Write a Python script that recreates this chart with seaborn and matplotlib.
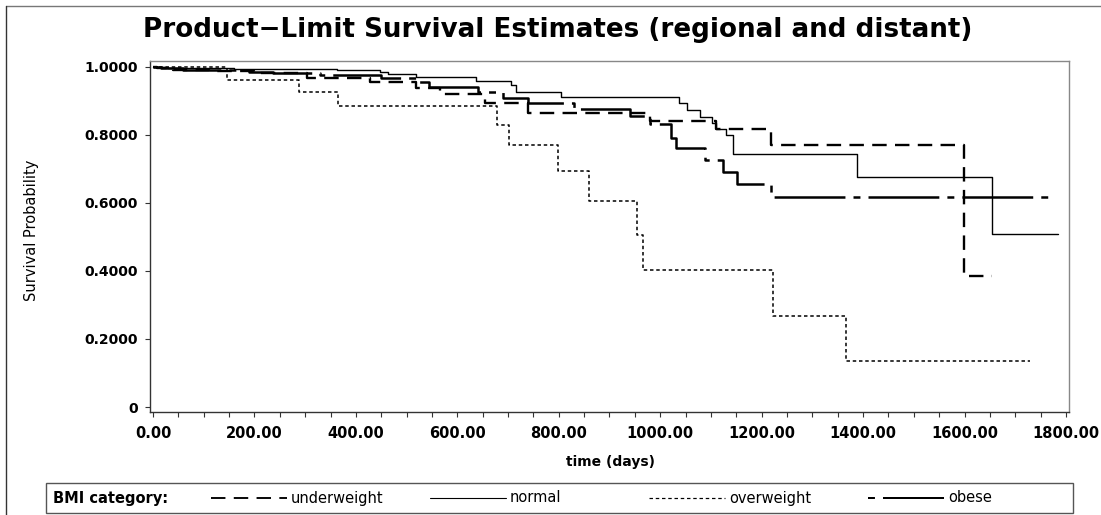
import matplotlib
matplotlib.use("Agg")
import matplotlib.pyplot as plt
import pandas as pd
import seaborn as sns
from matplotlib.lines import Line2D
from matplotlib.patches import Rectangle
from matplotlib.ticker import MultipleLocator

# Kaplan-Meier step values (time in days, survival probability)
groups = ["underweight", "normal", "overweight", "obese"]

underweight_time = [0, 8, 40, 110, 200, 303, 428, 519, 566, 655, 740, 980, 1110, 1218, 1599, 1654]
underweight_surv = [1.0, 0.996, 0.992, 0.988, 0.982, 0.968, 0.957, 0.937, 0.920, 0.893, 0.866,
                    0.840, 0.817, 0.772, 0.386, 0.386]

normal_time = [0, 30, 160, 362, 447, 463, 519, 637, 706, 716, 804, 1038, 1052, 1079, 1103,
               1110, 1130, 1144, 1388, 1654, 1785]
normal_surv = [1.0, 0.997, 0.994, 0.991, 0.985, 0.978, 0.970, 0.960, 0.948, 0.926, 0.913,
               0.893, 0.873, 0.852, 0.834, 0.817, 0.800, 0.745, 0.677, 0.508, 0.508]

overweight_time = [0, 146, 288, 365, 678, 701, 798, 859, 954, 967, 1222, 1366, 1730]
overweight_surv = [1.0, 0.963, 0.926, 0.885, 0.830, 0.770, 0.693, 0.606, 0.505, 0.404,
                   0.269, 0.135, 0.135]

obese_time = [0, 15, 60, 190, 237, 330, 450, 525, 545, 640, 690, 740, 831, 940, 980, 1021,
              1031, 1089, 1123, 1151, 1218, 1773]
obese_surv = [1.0, 0.996, 0.991, 0.986, 0.981, 0.976, 0.968, 0.955, 0.942, 0.925, 0.910,
              0.895, 0.876, 0.855, 0.832, 0.792, 0.761, 0.726, 0.691, 0.655, 0.617, 0.617]

xticks = [0, 200, 400, 600, 800, 1000, 1200, 1400, 1600, 1800]
xtick_labels = ["0.00", "200.00", "400.00", "600.00", "800.00", "1000.00", "1200.00",
                "1400.00", "1600.00", "1800.00"]
yticks = [0, 0.2, 0.4, 0.6, 0.8, 1.0]
ytick_labels = ["0", "0.2000", "0.4000", "0.6000", "0.8000", "1.0000"]

# line styles (dash lengths in points, not scaled by width)
dash_map = {"underweight": (10.4, 6.0), "normal": "", "overweight": (2.5, 2.0),
            "obese": (51, 5.8, 5, 5.8)}
width_map = {"underweight": 1.7, "normal": 1.0, "overweight": 1.1, "obese": 1.8}

series = {
    "underweight": (underweight_time, underweight_surv),
    "normal": (normal_time, normal_surv),
    "overweight": (overweight_time, overweight_surv),
    "obese": (obese_time, obese_surv),
}
df = pd.concat(
    [pd.DataFrame({"time": t, "survival": s, "BMI": g}) for g, (t, s) in series.items()],
    ignore_index=True,
)

sns.set_style("white")
plt.rcParams["font.family"] = ["DejaVu Sans"]
plt.rcParams["lines.scale_dashes"] = False
plt.rcParams["text.color"] = "black"
plt.rcParams["xtick.labelcolor"] = "black"
plt.rcParams["ytick.labelcolor"] = "black"

W, H = 1101, 515
fig = plt.figure(figsize=(W / 100, H / 100), dpi=100)


def fx(px):
    return px / W


def fy(py):
    return 1 - py / H


ax = fig.add_axes([fx(150), fy(412), fx(1069) - fx(150), fy(61) - fy(412)])

sns.lineplot(
    data=df, x="time", y="survival", style="BMI", style_order=groups, dashes=dash_map,
    size="BMI", size_order=groups, sizes=width_map, color="black",
    drawstyle="steps-post", estimator=None, legend=False, ax=ax,
)

ax.set_xlim(-5.9, 1806)
ax.set_ylim(-0.0147, 1.0176)
ax.set_xticks(xticks, labels=xtick_labels, fontweight="bold", fontsize=10.5, color="black")
ax.xaxis.set_minor_locator(MultipleLocator(50))
ax.set_yticks(yticks, labels=ytick_labels, fontweight="bold", fontsize=10, color="black")
ax.tick_params(axis="both", which="both", direction="out", length=3.8, width=0.8,
               color="#333333", bottom=True, left=True)
ax.tick_params(axis="x", pad=6)
ax.tick_params(axis="y", pad=5)
ax.set_xlabel("")
ax.set_ylabel("")
for side, sp in ax.spines.items():
    sp.set_visible(True)
    sp.set_linewidth(1.0)
    sp.set_color("#333333" if side in ("left", "bottom") else "#888888")

# titles and axis labels
fig.text(fx(558), fy(37), "Product\u2212Limit Survival Estimates (regional and distant)",
         ha="center", va="baseline", fontsize=18.8, fontweight="bold", color="black")
fig.text(fx(611), fy(462), "time (days)", ha="center", va="center",
         fontsize=10, fontweight="bold", color="black")
fig.text(fx(32), fy(230), "Survival Probability", ha="center", va="center",
         rotation=90, fontsize=10.5, color="black")

# outer frame of the graph area
fig.add_artist(Line2D([fx(6), 1], [fy(6), fy(6)], transform=fig.transFigure,
                      color="#777777", lw=1))
fig.add_artist(Line2D([fx(6), fx(6)], [0, fy(6)], transform=fig.transFigure,
                      color="#333333", lw=1))

# legend box at the bottom
fig.add_artist(Rectangle((fx(46), fy(513)), fx(1073) - fx(46), fy(483) - fy(513),
                         transform=fig.transFigure, fill=False, ec="#555555", lw=1))
ly = fy(498)
fig.text(fx(53), ly, "BMI category:", ha="left", va="center", fontsize=10.5,
         fontweight="bold", color="black")
handle_start = {"underweight": 211, "normal": 430, "overweight": 649, "obese": 868}
for g in groups:
    x0 = handle_start[g]
    d = dash_map[g]
    if d == "":
        ls = "-"
    elif g == "obese":
        ls = (56.8, d)
    else:
        ls = (0, d)
    fig.add_artist(Line2D([fx(x0), fx(x0 + 76)], [ly, ly], transform=fig.transFigure,
                          color="black", lw=width_map[g] * 0.8, linestyle=ls))
    fig.text(fx(x0 + 80), ly, g, ha="left", va="center", fontsize=10.5, color="black")

fig.savefig("out.png", dpi=100)
